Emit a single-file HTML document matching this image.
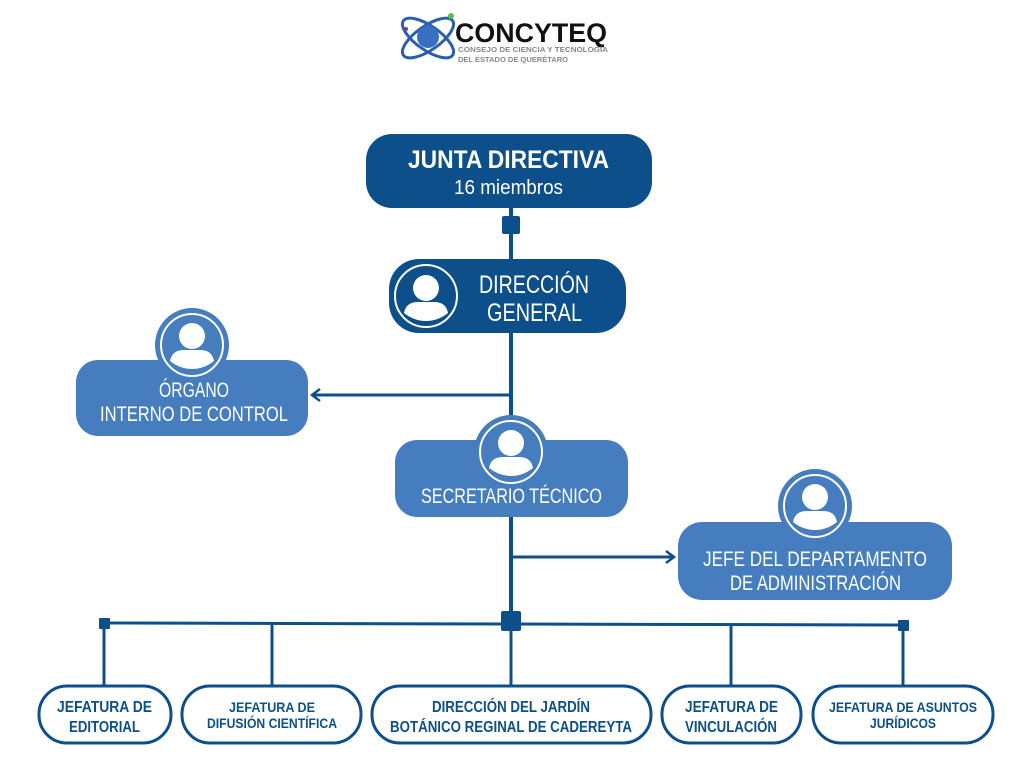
<!DOCTYPE html>
<html><head><meta charset="utf-8"><style>
html,body{margin:0;padding:0;background:#fff;width:1024px;height:768px;overflow:hidden}
svg{display:block}
text{font-family:"Liberation Sans",sans-serif}
</style></head><body>
<svg width="1024" height="768" viewBox="0 0 1024 768" xmlns="http://www.w3.org/2000/svg">
<defs>
<g id="person">
<circle cx="0" cy="-8" r="13" fill="#fff"/>
<path d="M-22,17 Q-20,6 -8,6 L8,6 Q20,6 22,17 Q12,25 0,25 Q-12,25 -22,17Z" fill="#fff"/>
</g>
</defs>

<!-- Logo -->
<g>
<ellipse cx="428" cy="38" rx="30" ry="12" fill="none" stroke="#2a5fb0" stroke-width="3" transform="rotate(35 428 38)"/>
<ellipse cx="428" cy="38" rx="30" ry="12" fill="none" stroke="#2a5fb0" stroke-width="3" transform="rotate(-35 428 38)"/>
<circle cx="428" cy="37" r="11" fill="#3a6fc0"/>
<circle cx="451" cy="16" r="3" fill="#5ac040"/>
<circle cx="406" cy="29" r="2" fill="#7a3a9a"/>
<text x="455" y="42" font-weight="bold" font-size="27" fill="#111" textLength="152" lengthAdjust="spacingAndGlyphs">CONCYTEQ</text>
<text x="458" y="52" font-weight="bold" font-size="7.5" fill="#888" textLength="150" lengthAdjust="spacingAndGlyphs">CONSEJO DE CIENCIA Y TECNOLOGÍA</text>
<text x="458" y="62" font-weight="bold" font-size="7.5" fill="#888" textLength="110" lengthAdjust="spacingAndGlyphs">DEL ESTADO DE QUERÉTARO</text>
</g>

<!-- lines -->
<g stroke="#0d4f8b" stroke-width="4" fill="none">
<line x1="511" y1="206" x2="511" y2="621"/>
<line x1="511" y1="395" x2="312" y2="395" stroke-width="3"/>
<path d="M320,389 L312,395 L320,401" stroke-width="2.5"/>
<line x1="511" y1="557" x2="674" y2="557" stroke-width="3"/>
<path d="M666,551 L674,557 L666,563" stroke-width="2.5"/>
<line x1="104" y1="623" x2="903" y2="625" stroke-width="3"/>
<line x1="104" y1="623" x2="104" y2="686" stroke-width="3"/>
<line x1="272" y1="623" x2="272" y2="686" stroke-width="3"/>
<line x1="511" y1="621" x2="511" y2="686" stroke-width="3"/>
<line x1="731" y1="624" x2="731" y2="686" stroke-width="3"/>
<line x1="903" y1="625" x2="903" y2="686" stroke-width="3"/>
</g>
<g fill="#0d4f8b">
<rect x="502" y="216" width="18" height="18" rx="2"/>
<rect x="99" y="618" width="11" height="11" rx="1"/>
<rect x="898" y="620" width="11" height="11" rx="1"/>
<rect x="501" y="611" width="20" height="20" rx="2"/>
</g>

<!-- Junta -->
<rect x="366" y="134" width="286" height="74" rx="26" fill="#0d4f8b"/>
<text x="408" y="168" font-weight="bold" font-size="25" fill="#fff" textLength="201" lengthAdjust="spacingAndGlyphs">JUNTA DIRECTIVA</text>
<text x="454" y="194" font-size="20" fill="#fff" textLength="109" lengthAdjust="spacingAndGlyphs">16 miembros</text>

<!-- Dirección General -->
<rect x="389" y="259" width="237" height="74" rx="30" fill="#0d4f8b"/>
<circle cx="426" cy="296" r="31" fill="#0d4f8b" stroke="#fff" stroke-width="2"/>
<g transform="translate(426,296)"><use href="#person"/></g>
<text x="479" y="293" font-size="25" fill="#fff" textLength="110" lengthAdjust="spacingAndGlyphs">DIRECCIÓN</text>
<text x="487" y="321" font-size="25" fill="#fff" textLength="95" lengthAdjust="spacingAndGlyphs">GENERAL</text>

<!-- Órgano -->
<rect x="76" y="360" width="232" height="76" rx="22" fill="#457dbf"/>
<circle cx="192" cy="345" r="37" fill="#457dbf"/>
<circle cx="192" cy="345" r="31" fill="#457dbf" stroke="#fff" stroke-width="2"/>
<g transform="translate(192,344)"><use href="#person"/></g>
<text x="159" y="397" font-size="21" fill="#fff" textLength="70" lengthAdjust="spacingAndGlyphs">ÓRGANO</text>
<text x="100" y="421" font-size="21" fill="#fff" textLength="188" lengthAdjust="spacingAndGlyphs">INTERNO DE CONTROL</text>

<!-- Secretario -->
<rect x="395" y="440" width="233" height="77" rx="22" fill="#457dbf"/>
<circle cx="511" cy="452" r="37" fill="#457dbf"/>
<circle cx="511" cy="452" r="31" fill="#457dbf" stroke="#fff" stroke-width="2"/>
<g transform="translate(511,451)"><use href="#person"/></g>
<text x="421" y="503" font-size="21" fill="#fff" textLength="181" lengthAdjust="spacingAndGlyphs">SECRETARIO TÉCNICO</text>

<!-- Jefe Admin -->
<rect x="678" y="522" width="274" height="78" rx="24" fill="#457dbf"/>
<circle cx="815" cy="506" r="37" fill="#457dbf"/>
<circle cx="815" cy="506" r="31" fill="#457dbf" stroke="#fff" stroke-width="2"/>
<g transform="translate(815,505)"><use href="#person"/></g>
<text x="703" y="566" font-size="21" fill="#fff" textLength="224" lengthAdjust="spacingAndGlyphs">JEFE DEL DEPARTAMENTO</text>
<text x="730" y="590" font-size="21" fill="#fff" textLength="171" lengthAdjust="spacingAndGlyphs">DE ADMINISTRACIÓN</text>

<!-- Bottom boxes -->
<g fill="#fff" stroke="#0d4f8b" stroke-width="3">
<rect x="39" y="686" width="132" height="57" rx="28"/>
<rect x="182" y="686" width="179" height="57" rx="28"/>
<rect x="372" y="686" width="279" height="57" rx="28"/>
<rect x="662" y="686" width="139" height="57" rx="28"/>
<rect x="813" y="686" width="180" height="57" rx="28"/>
</g>
<g fill="#0d4f8b" font-weight="bold">
<text x="57" y="712" font-size="16" textLength="95" lengthAdjust="spacingAndGlyphs">JEFATURA DE</text>
<text x="69" y="732" font-size="16" textLength="71" lengthAdjust="spacingAndGlyphs">EDITORIAL</text>
<text x="229" y="712" font-size="14" textLength="86" lengthAdjust="spacingAndGlyphs">JEFATURA DE</text>
<text x="207" y="728" font-size="14" textLength="130" lengthAdjust="spacingAndGlyphs">DIFUSIÓN CIENTÍFICA</text>
<text x="432" y="712" font-size="16" textLength="158" lengthAdjust="spacingAndGlyphs">DIRECCIÓN DEL JARDÍN</text>
<text x="390" y="732" font-size="16" textLength="242" lengthAdjust="spacingAndGlyphs">BOTÁNICO REGINAL DE CADEREYTA</text>
<text x="685" y="712" font-size="16" textLength="93" lengthAdjust="spacingAndGlyphs">JEFATURA DE</text>
<text x="685" y="732" font-size="16" textLength="92" lengthAdjust="spacingAndGlyphs">VINCULACIÓN</text>
<text x="829" y="712" font-size="14" textLength="148" lengthAdjust="spacingAndGlyphs">JEFATURA DE ASUNTOS</text>
<text x="870" y="728" font-size="14" textLength="66" lengthAdjust="spacingAndGlyphs">JURÍDICOS</text>
</g>
</svg>
</body></html>
